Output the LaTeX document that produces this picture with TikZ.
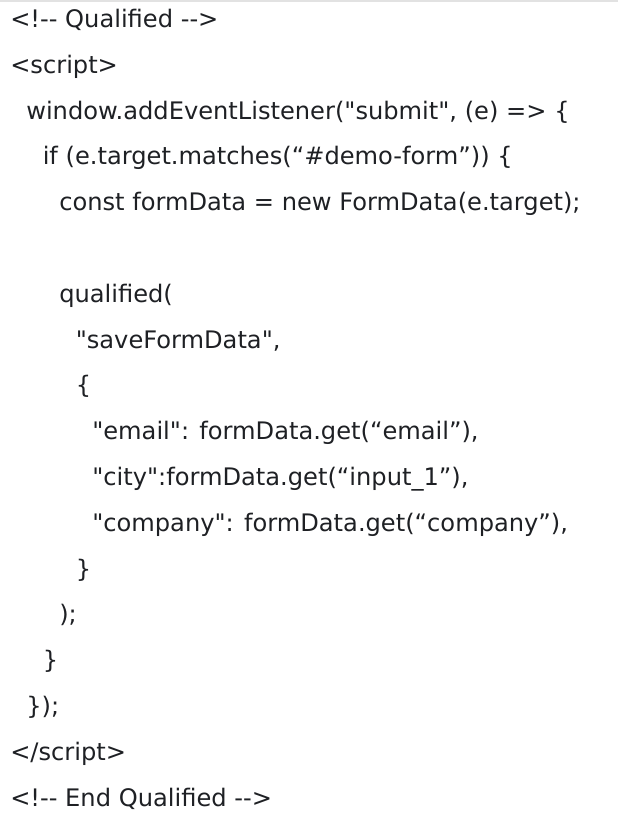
\documentclass[tikz,border=0pt]{standalone}
\usepackage{fontspec}
\usepackage{tikz}
\newfontfamily\codefont{DejaVu Sans}
\definecolor{codetext}{RGB}{30,32,36}
\definecolor{pagerule}{RGB}{226,226,226}
\newcommand{\pixelsize}{0.75pt}

\begin{document}
\begin{tikzpicture}[x=\pixelsize,y=-\pixelsize,
	codeline/.style={anchor=base west, inner sep=0pt, text=codetext,
		font=\codefont\fontsize{18.1pt}{21pt}\selectfont}]
	\useasboundingbox (0,0) rectangle (618,824);
	\fill[pagerule] (0,0) rectangle (618,2);

	% opening tags
	\node[codeline] (cmtopen) at (10,27.5) {<!-{}- Qualified -{}->};
	\node[codeline] (scriptopen) at (10,73.3) {<script>};

	% listener body
	\node[codeline] (listener) at (26,119.1) {window.addEventListener("submit", (e) => \{};
	\node[codeline] (ifmatch) at (42.5,164.9) {if (e.target.matches(“\#demo-form”)) \{};
	\node[codeline] (formdata) at (59,210.7) {const formData = new FormData(e.target);};

	\node[codeline] (qualcall) at (59,302.3) {qualified(};
	\node[codeline] (savename) at (75.5,348.1) {"saveFormData",};
	\node[codeline] (objopen) at (75.5,393.9) {\{};
	\node[codeline] (emailkey) at (92,439.7) {"email": formData.get(“email”),};
	\node[codeline] (citykey) at (92,485.5) {"city":formData.get(“input\_1”),};
	\node[codeline] (companykey) at (92,531.3) {"company": formData.get(“company”),};
	\node[codeline] (objclose) at (75.5,577.1) {\}};
	\node[codeline] (qualclose) at (59,622.9) {);};
	\node[codeline] (ifclose) at (42.5,668.7) {\}};
	\node[codeline] (listenerclose) at (26,714.5) {\});};

	% closing tags
	\node[codeline] (scriptclose) at (10,760.3) {</script>};
	\node[codeline] (cmtclose) at (10,806.1) {<!-{}- End Qualified -{}->};
\end{tikzpicture}
\end{document}
